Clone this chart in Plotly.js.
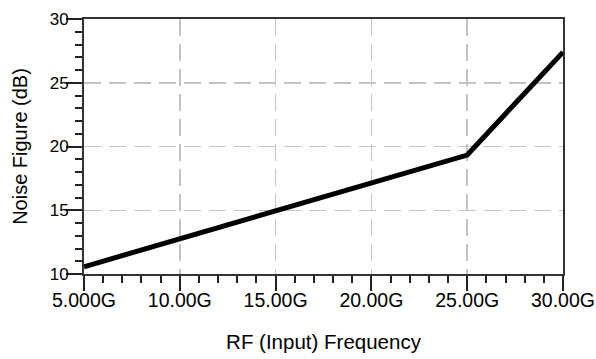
<!DOCTYPE html>
<html>
<head>
<meta charset="utf-8">
<script src="https://cdn.plot.ly/plotly-3.0.1.min.js"></script>
<style>html,body{margin:0;padding:0;background:#fff;}#chart{width:596px;height:359px;}</style>
</head>
<body>
<div id="chart"></div>
<script>
// Data (frequency in GHz, noise figure in dB)
const freqGHz = [5, 10, 15, 20, 25, 27.5, 30];
const noiseFigure = [10.57, 12.75, 14.95, 17.14, 19.33, 23.37, 27.4];
const xTickVals = [5, 10, 15, 20, 25, 30];
const xTickText = ["5.000G", "10.00G", "15.00G", "20.00G", "25.00G", "30.00G"];
const yTickVals = [10, 15, 20, 25, 30];

const font = "Liberation Sans, Arial, sans-serif";
const trace = {
  x: freqGHz, y: noiseFigure, type: "scatter", mode: "lines",
  line: {color: "#000", width: 5}, hoverinfo: "skip"
};
const layout = {
  width: 596, height: 359,
  margin: {l: 84, r: 33, t: 19, b: 85},
  paper_bgcolor: "#fff", plot_bgcolor: "#fff",
  showlegend: false,
  font: {family: font, color: "#000"},
  xaxis: {
    range: [5, 30], tickvals: xTickVals, ticktext: xTickText,
    ticks: "outside", ticklen: 15, tickwidth: 2, tickcolor: "#222",
    tickfont: {size: 19.5, family: font, color: "#000"}, ticklabelstandoff: -7,
    showline: true, linecolor: "#333", linewidth: 2, mirror: true,
    showgrid: true, gridcolor: "#c4c4c4", gridwidth: 1.5, griddash: "17px,8px",
    zeroline: false,
    minor: {dtick: 1, ticks: "outside", ticklen: 7, tickwidth: 2, tickcolor: "#222", showgrid: false},
    title: {text: "RF (Input) Frequency", font: {size: 20.5, family: font, color: "#000"}, standoff: 24}
  },
  yaxis: {
    range: [10, 30], tickvals: yTickVals,
    ticks: "outside", ticklen: 16, tickwidth: 2, tickcolor: "#222",
    tickfont: {size: 17, family: font, color: "#000"}, ticklabelstandoff: -6,
    showline: true, linecolor: "#333", linewidth: 2, mirror: true,
    showgrid: true, gridcolor: "#c4c4c4", gridwidth: 1.5, griddash: "17px,8px",
    zeroline: false,
    minor: {dtick: 1, ticks: "outside", ticklen: 7, tickwidth: 2, tickcolor: "#222", showgrid: false},
    title: {text: "Noise Figure (dB)", font: {size: 20, family: font, color: "#000"}, standoff: 17}
  }
};
Plotly.newPlot("chart", [trace], layout, {staticPlot: true, displayModeBar: false});
</script>
</body>
</html>
